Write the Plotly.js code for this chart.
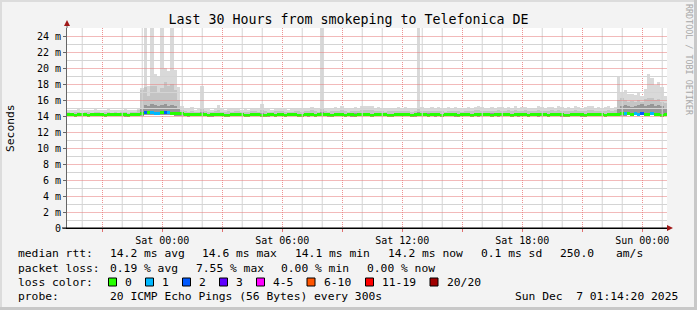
<!DOCTYPE html>
<html><head><meta charset="utf-8">
<script src="https://cdn.plot.ly/plotly-3.0.1.min.js"></script>
<style>html,body{margin:0;padding:0;background:#f3f3f3;}#chart{width:697px;height:310px;}</style>
</head><body><div id="chart"></div>
<script>
// ---- data (10-minute bins, values in milliseconds) ----
const startTime = '2025-12-05T19:14:20Z';
const endTime = '2025-12-07T01:14:20Z';
const stepMinutes = 10;

const rttMin = [
14.0,14.0,13.9,14.0,14.0,14.0,13.9,14.0,14.0,14.0,
14.0,13.9,14.0,14.0,14.0,14.0,14.0,13.9,14.0,14.0,
14.0,14.0,14.0,14.1,14.1,14.1,14.1,14.1,14.1,14.1,
14.1,14.1,14.0,14.0,14.0,14.0,13.9,14.0,14.0,14.0,
14.0,14.0,14.0,13.9,14.0,14.0,14.0,14.0,13.9,14.0,
14.0,14.0,14.0,14.0,13.9,14.0,14.0,14.0,14.0,14.0,
13.9,14.0,14.0,14.0,14.0,13.9,14.0,14.0,14.0,14.0,
14.0,14.0,13.9,14.0,14.0,14.0,14.0,14.0,13.9,14.0,
14.0,14.0,14.0,14.0,14.0,13.9,14.0,14.0,14.0,14.0,
14.0,13.9,14.0,14.0,14.0,14.0,14.0,13.9,14.0,14.0,
14.0,14.0,14.0,14.0,13.9,14.0,14.0,14.0,14.0,14.0,
13.9,14.0,14.0,14.0,14.0,14.0,13.9,14.0,14.0,14.0,
14.0,14.0,14.0,13.9,14.0,14.0,14.0,14.0,14.0,13.9,
14.0,14.0,14.0,14.0,14.0,13.9,14.0,14.0,14.0,14.0,
14.0,13.9,14.0,14.0,14.0,14.0,14.0,14.0,13.9,14.0,
14.0,14.0,14.0,14.0,13.9,14.0,14.0,14.0,14.0,14.0,
14.0,13.9,14.0,14.0,14.0,14.0,14.0,14.0,14.1,14.0,
14.1,14.0,14.1,14.0,14.0,14.1,14.0,14.0,14.0,14.0];

const rttMax = [
14.8,14.7,14.8,14.9,14.8,14.7,14.8,14.8,14.9,14.8,
14.7,14.8,14.9,14.8,14.8,14.7,14.8,14.9,14.8,14.7,
14.8,15.0,17.5,25.5,17.8,25.5,19.3,19.0,25.5,20.0,
19.6,25.5,19.8,17.6,15.2,15.0,14.9,15.1,14.8,14.9,
17.8,15.0,14.9,14.8,14.9,15.4,14.9,14.8,14.9,14.9,
15.0,15.0,14.8,14.9,14.8,14.9,15.0,14.9,15.5,15.0,
14.9,14.8,14.9,15.0,15.0,14.9,14.8,14.9,14.9,15.0,
14.9,15.0,15.0,15.1,15.0,14.9,25.5,15.0,14.9,15.0,
15.1,15.0,15.3,15.0,14.9,15.0,15.1,15.0,15.2,15.3,
15.3,15.2,15.0,15.1,15.0,14.9,15.0,15.0,15.0,15.1,
15.0,15.1,15.0,14.9,15.0,25.5,15.1,15.0,15.0,15.1,
15.0,15.1,15.0,15.0,15.1,15.0,15.1,15.0,14.9,15.0,
15.1,15.0,15.1,15.2,15.1,15.0,15.0,15.1,15.0,15.1,
15.1,15.0,15.1,15.0,15.2,15.0,15.1,15.1,15.0,15.0,
15.0,15.2,15.1,15.0,15.1,15.1,15.0,15.3,15.1,15.0,
15.1,15.0,15.3,15.1,15.0,15.1,15.2,15.3,15.0,15.1,
15.0,15.1,15.2,15.0,15.1,19.0,17.0,17.3,16.8,16.8,
16.6,17.0,16.5,17.4,19.3,18.8,17.9,18.3,17.6,16.5];

const rttMid = [
14.5,14.4,14.5,14.5,14.4,14.5,14.5,14.4,14.5,14.5,
14.4,14.5,14.5,14.4,14.5,14.4,14.5,14.5,14.4,14.5,
14.5,14.7,17.3,17.6,16.5,17.8,17.8,17.0,17.5,18.2,
17.8,18.0,17.3,16.0,14.8,14.6,14.5,14.6,14.5,14.5,
15.0,14.6,14.5,14.5,14.6,14.8,14.5,14.5,14.6,14.5,
14.6,14.6,14.5,14.5,14.5,14.6,14.6,14.5,14.8,14.6,
14.5,14.5,14.6,14.6,14.6,14.5,14.5,14.5,14.6,14.6,
14.5,14.6,14.6,14.7,14.6,14.5,15.0,14.6,14.5,14.6,
14.6,14.6,14.8,14.6,14.5,14.6,14.6,14.6,14.7,14.8,
14.8,14.7,14.6,14.6,14.6,14.5,14.6,14.6,14.6,14.6,
14.6,14.6,14.6,14.5,14.6,15.0,14.6,14.6,14.6,14.6,
14.6,14.6,14.6,14.5,14.6,14.6,14.6,14.6,14.5,14.6,
14.6,14.6,14.7,14.7,14.6,14.6,14.6,14.6,14.6,14.7,
14.6,14.6,14.7,14.6,14.7,14.6,14.6,14.7,14.6,14.6,
14.6,14.7,14.6,14.6,14.6,14.7,14.6,14.8,14.6,14.6,
14.6,14.6,14.8,14.6,14.6,14.6,14.7,14.8,14.6,14.6,
14.6,14.6,14.7,14.6,14.7,16.0,16.2,16.0,15.8,15.9,
15.7,16.0,15.8,16.1,16.3,16.2,16.0,16.1,15.8,15.6];

const rttInner = [
14.3,14.3,14.3,14.4,14.3,14.3,14.3,14.3,14.4,14.3,
14.3,14.3,14.4,14.3,14.3,14.3,14.3,14.4,14.3,14.3,
14.3,14.4,15.0,15.4,15.2,15.5,15.4,15.2,15.4,15.5,
15.3,15.4,15.2,14.9,14.4,14.3,14.3,14.4,14.3,14.3,
14.5,14.3,14.3,14.3,14.4,14.4,14.3,14.3,14.3,14.3,
14.4,14.3,14.3,14.3,14.3,14.4,14.3,14.3,14.4,14.3,
14.3,14.3,14.3,14.4,14.3,14.3,14.3,14.3,14.4,14.3,
14.3,14.4,14.3,14.4,14.3,14.3,14.5,14.3,14.3,14.3,
14.4,14.3,14.4,14.3,14.3,14.3,14.4,14.3,14.4,14.4,
14.4,14.3,14.3,14.3,14.4,14.3,14.3,14.3,14.3,14.4,
14.3,14.4,14.3,14.3,14.3,14.5,14.3,14.3,14.4,14.3,
14.3,14.4,14.3,14.3,14.3,14.3,14.4,14.3,14.3,14.3,
14.4,14.3,14.4,14.4,14.3,14.3,14.3,14.4,14.3,14.4,
14.3,14.3,14.4,14.3,14.4,14.3,14.3,14.4,14.3,14.3,
14.3,14.4,14.3,14.3,14.3,14.4,14.3,14.4,14.3,14.3,
14.3,14.3,14.4,14.3,14.3,14.3,14.4,14.4,14.3,14.3,
14.3,14.3,14.4,14.3,14.4,15.0,15.3,15.4,15.2,15.1,
15.3,15.4,15.5,15.2,15.4,15.5,15.3,15.4,15.2,15.0];

const rttMedian = [
14.2,14.2,14.1,14.2,14.2,14.2,14.1,14.2,14.2,14.2,
14.2,14.1,14.2,14.2,14.2,14.2,14.2,14.2,14.1,14.2,
14.2,14.2,14.3,14.4,14.4,14.4,14.3,14.3,14.4,14.4,
14.4,14.3,14.3,14.3,14.3,14.2,14.2,14.2,14.2,14.2,
14.2,14.2,14.1,14.2,14.2,14.2,14.2,14.1,14.1,14.2,
14.2,14.2,14.2,14.1,14.1,14.2,14.2,14.2,14.1,14.1,
14.2,14.2,14.1,14.2,14.2,14.1,14.2,14.2,14.2,14.1,
14.1,14.2,14.2,14.2,14.1,14.2,14.2,14.2,14.2,14.1,
14.2,14.2,14.2,14.1,14.2,14.2,14.1,14.2,14.2,14.2,
14.2,14.1,14.2,14.2,14.2,14.2,14.1,14.1,14.2,14.2,
14.2,14.2,14.2,14.1,14.2,14.2,14.2,14.2,14.1,14.2,
14.2,14.2,14.1,14.2,14.2,14.2,14.2,14.1,14.2,14.2,
14.2,14.1,14.2,14.2,14.2,14.2,14.2,14.1,14.2,14.2,
14.2,14.2,14.2,14.1,14.2,14.2,14.2,14.2,14.1,14.2,
14.2,14.2,14.2,14.2,14.1,14.2,14.2,14.2,14.2,14.1,
14.1,14.2,14.2,14.2,14.2,14.1,14.2,14.2,14.2,14.2,
14.2,14.1,14.2,14.2,14.2,14.2,14.3,14.3,14.3,14.2,
14.3,14.2,14.3,14.2,14.2,14.3,14.2,14.2,14.1,14.2];

const lostPings = [
0,0,0,0,0,0,0,0,0,0, 0,0,0,0,0,0,0,0,0,0,
0,0,0,2,0,1,1,1,0,2, 1,0,0,0,0,0,0,0,0,0,
0,0,0,0,0,0,0,0,0,0, 0,0,0,0,0,0,0,0,0,0,
0,0,0,0,0,0,0,0,0,0, 0,0,0,0,0,0,0,0,0,0,
0,0,0,0,0,0,0,0,0,0, 0,0,0,0,0,0,0,0,0,0,
0,0,0,0,0,0,0,0,0,0, 0,0,0,0,0,0,0,0,0,0,
0,0,0,0,0,0,0,0,0,0, 0,0,0,0,0,0,0,0,0,0,
0,0,0,0,0,0,0,0,0,0, 0,0,0,0,0,0,0,0,0,0,
0,0,0,0,0,0,0,1,0,0, 1,1,2,0,0,1,0,0,0,0];

const lossUpper  = [0, 1, 2, 3, 5, 10, 19, 20];
const lossLabels = ['0','1','2','3','4-5','6-10','11-19','20/20'];
const lossColors = ['#26ff00','#00b8ff','#0059ff','#5e00ff','#ff00ff','#ff5500','#ff0000','#a00000'];

const xTickVals = ['2025-12-05 21:00','2025-12-06 00:00','2025-12-06 03:00','2025-12-06 06:00','2025-12-06 09:00',
                   '2025-12-06 12:00','2025-12-06 15:00','2025-12-06 18:00','2025-12-06 21:00','2025-12-07 00:00'];
const xTickText = ['','Sat 00:00','','Sat 06:00','','Sat 12:00','','Sat 18:00','','Sun 00:00'];
const yTickVals = [0,2,4,6,8,10,12,14,16,18,20,22,24];
const yTickText = ['0','2 m','4 m','6 m','8 m','10 m','12 m','14 m','16 m','18 m','20 m','22 m','24 m'];
const yMinorVals = [1,3,5,7,9,11,13,15,17,19,21,23];

const titleText = 'Last 30 Hours from smokeping to Telefonica DE';
const statsMedian = [['median rtt:',16],['14.2 ms avg',107.5],['14.6 ms max',200],['14.1 ms min',292.5],['14.2 ms now',386],['0.1 ms sd',479],['250.0',558],['am/s',614]];
const statsLoss = [['packet loss:',16],['0.19 % avg',107.5],['7.55 % max',193.5],['0.00 % min',279],['0.00 % now',364.5]];
const probeText = [['probe:',16],['20 ICMP Echo Pings (56 Bytes) every 300s',107.5],['Sun Dec\u00a0 7 01:14:20 2025',513]];

// ---- build ----
const fmt = d => d.toISOString().slice(0,19).replace('T',' ');
const t0 = new Date(startTime).getTime();
const t1 = new Date(endTime).getTime();
const stepMs = stepMinutes*60000;
const xs = rttMedian.map((_,i) => fmt(new Date(t0 + (i+0.5)*stepMs)));
const bucketOf = n => lossUpper.findIndex(u => n <= u);

// hourly minor grid positions (skipping the 3-hour major lines)
const xMinorVals = [];
for (let t = Date.UTC(2025,11,5,20); t < t1; t += 3600000) {
  if (new Date(t).getUTCHours() % 3 !== 0) xMinorVals.push(fmt(new Date(t)));
}

function band(top, color){
  return {type:'bar', x:xs, base:rttMin, y:top.map((v,i)=>v-rttMin[i]), width:stepMs,
    marker:{color:color, line:{width:0}}, opacity:1, hoverinfo:'skip'};
}
const LW = 0.34;
const traces = [
  band(rttMax,  '#d9d9d9'),
  band(rttMid,  '#c4c4c4'),
  band(rttInner,'#969696'),
  {type:'bar', x:xs, base:rttMedian.map(v=>v-LW/2), y:rttMedian.map(()=>LW), width:stepMs,
   marker:{color:lostPings.map(n=>lossColors[bucketOf(n)]), line:{width:0}}, opacity:1, hoverinfo:'skip'}
];

// pixel helpers for decorations (plot area: x 67..667, y 28..228)
const PX = px => (px-67)/600, PY = py => (228-py)/200;
const FONT = 'DejaVu Sans Mono';
const ann = [];
function txt(s, px, py, size, extra){ ann.push(Object.assign({text:s, xref:'paper', yref:'paper', x:PX(px), y:PY(py),
  xanchor:'left', yanchor:'middle', showarrow:false, font:{family:FONT, size:size, color:'#000'}}, extra||{})); }
statsMedian.forEach(([s,x]) => txt(s, x, 254, 11.3));
statsLoss.forEach(([s,x]) => txt(s, x, 268, 11.3));
txt('loss color:', 16, 282, 11.3);
probeText.forEach(([s,x]) => txt(s, x, 296, 11.3));
const boxX = [108.5,145.5,182.5,219.5,256.5,307,365.5,430];
const shapes = [];

// grid lines drawn over the data, like rrdtool does (solid light tones stand in for the dotted pattern)
const MAJ = 'rgba(235,135,135,0.9)';
const GRID_MIN = '#d4d4d4', GRID_MAJ = 'rgba(232,130,130,0.55)';
const HALF = 0.5/8;  // half a pixel in data units, keeps 1px lines crisp
yMinorVals.forEach(v => shapes.push({type:'line', xref:'paper', yref:'y', x0:0, x1:1, y0:v-HALF, y1:v-HALF,
  line:{color:GRID_MIN, width:1}}));
xMinorVals.forEach(v => shapes.push({type:'line', xref:'x', yref:'paper', x0:v, x1:v, y0:0, y1:1,
  line:{color:GRID_MIN, width:1}}));
yTickVals.filter(v => v > 0).forEach(v => shapes.push({type:'line', xref:'paper', yref:'y', x0:0, x1:1, y0:v-HALF, y1:v-HALF,
  line:{color:GRID_MAJ, width:1}}));

lossLabels.forEach((lab,i) => {
  txt(lab, boxX[i]+14.5, 282, 11.3);
  shapes.push({type:'rect', xref:'paper', yref:'paper', x0:PX(boxX[i]), x1:PX(boxX[i]+8), y0:PY(286), y1:PY(278),
    fillcolor:lossColors[i], line:{color:'#000', width:1}});
});
txt('Seconds', 10, 128, 11.3, {textangle:-90, xanchor:'center'});
txt('RRDTOOL / TOBI OETIKER', 689, 60, 8.4, {textangle:90, xanchor:'center', font:{family:FONT, size:8.4, color:'#a8a8a8'}});

// axis extensions, arrows, frame
shapes.push({type:'line', xref:'paper', yref:'paper', x0:0, x1:0, y0:1, y1:PY(24), line:{color:'#666', width:1}});
shapes.push({type:'line', xref:'paper', yref:'paper', x0:PX(62), x1:PX(668), y0:0, y1:0, line:{color:'#000', width:1}});
shapes.push({type:'path', xref:'paper', yref:'paper', path:`M ${PX(64)},${PY(26)} L ${PX(70)},${PY(26)} L ${PX(67)},${PY(20)} Z`, fillcolor:'#a01818', line:{width:0}});
shapes.push({type:'path', xref:'paper', yref:'paper', path:`M ${PX(667)},${PY(225)} L ${PX(667)},${PY(231)} L ${PX(673)},${PY(228)} Z`, fillcolor:'#a01818', line:{width:0}});
shapes.push({type:'rect', xref:'paper', yref:'paper', x0:PX(694), x1:PX(697), y0:PY(310), y1:PY(0), fillcolor:'#c8c8c8', line:{width:0}});
shapes.push({type:'rect', xref:'paper', yref:'paper', x0:PX(0), x1:PX(697), y0:PY(310), y1:PY(307), fillcolor:'#c8c8c8', line:{width:0}});
shapes.push({type:'rect', xref:'paper', yref:'paper', x0:PX(0), x1:PX(694), y0:PY(2), y1:PY(0), fillcolor:'#dcdcdc', line:{width:0}});
shapes.push({type:'rect', xref:'paper', yref:'paper', x0:PX(0), x1:PX(2), y0:PY(307), y1:PY(0), fillcolor:'#dcdcdc', line:{width:0}});

const xRange = [fmt(new Date(startTime)), fmt(new Date(endTime))];
const layout = {
  width:697, height:310, margin:{l:67, r:30, t:28, b:82, pad:0},
  paper_bgcolor:'#f3f3f3', plot_bgcolor:'#ffffff',
  font:{family:FONT, size:10, color:'#000'},
  showlegend:false, barmode:'overlay', bargap:0,
  title:{text:titleText, font:{family:FONT, size:13.3, color:'#000'}, x:0.5, xref:'container', xanchor:'center',
         y:1-19/310, yref:'container', yanchor:'middle'},
  xaxis:{type:'date', range:xRange, tickmode:'array', tickvals:xTickVals, ticktext:xTickText,
         showgrid:true, gridcolor:MAJ, griddash:'1px,1px', gridwidth:1,
         showline:true, linecolor:'#000', ticks:'outside', ticklen:3, tickcolor:'#e07070', zeroline:false,
         tickfont:{family:FONT, size:10, color:'#000'}, fixedrange:true},
  yaxis:{range:[0,25], tickmode:'array', tickvals:yTickVals, ticktext:yTickText, showgrid:false,
         showline:true, linecolor:'#666', ticks:'outside', ticklen:3, tickcolor:'#666', zeroline:false,
         tickfont:{family:FONT, size:10, color:'#000'}, fixedrange:true},
  shapes:shapes, annotations:ann
};
Plotly.newPlot('chart', traces, layout, {displayModeBar:false, staticPlot:true});
</script></body></html>
